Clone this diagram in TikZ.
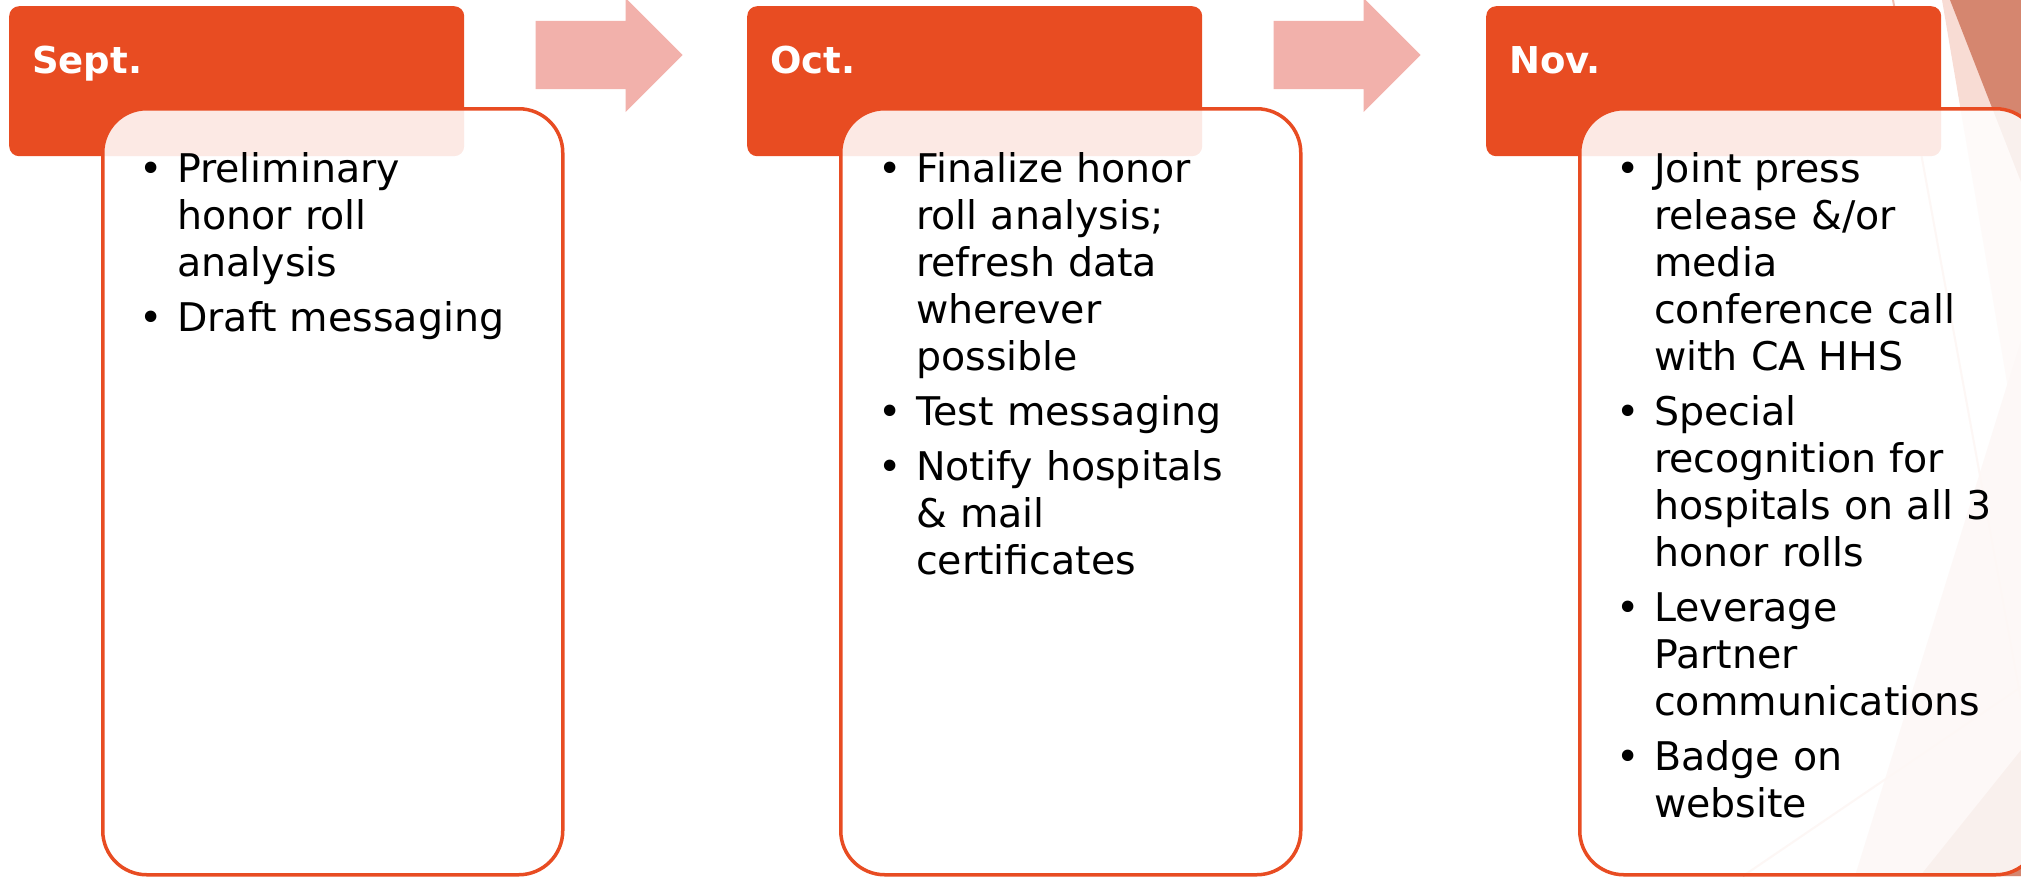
\documentclass[tikz,border=0pt]{standalone}
\usepackage{fontspec}
\setmainfont{DejaVu Sans}
\usetikzlibrary{shapes.arrows}
\definecolor{facet}{HTML}{E84C22}
\definecolor{arrowpink}{HTML}{F2B1AB}
\definecolor{shadepink}{HTML}{F8DCD4}
\definecolor{shadesalmon}{HTML}{D5866F}
\definecolor{shadeline}{HTML}{F0BFB1}
\tikzset{
    month-head/.style = {fill=facet, rectangle, rounded corners=10pt, minimum width=455pt, minimum height=150pt, inner sep=0pt, anchor=north west},
    month-title/.style = {text=white, font=\fontsize{37}{44}\selectfont\bfseries, anchor=base west, inner sep=0pt},
    month-box/.style = {draw=facet, line width=3.5pt, fill=white, fill opacity=0.88, rectangle, rounded corners=44pt, minimum width=460pt, minimum height=766pt, inner sep=0pt, anchor=north west},
    month-list/.style = {text=black, font=\fontsize{39.5}{47}\selectfont, text width=400pt, align=left, anchor=base west, inner sep=0pt},
    month-arrow/.style = {fill=arrowpink, single arrow, single arrow head extend=23pt, inner xsep=0pt, inner ysep=34pt, minimum height=147pt, anchor=tip},
}
\newcommand{\bul}{\leavevmode\llap{\textbullet\hspace{14pt}}}

\begin{document}
\begin{tikzpicture}[x=1pt, y=-1pt]
\clip (0,0) rectangle (2021,876);

% theme facets behind the last column
\fill[shadepink] (1942,0) -- (2021,0) -- (2021,465) -- cycle;
\fill[shadesalmon] (1950,0) -- (2021,0) -- (2021,182) -- cycle;
\fill[shadepink!80!shadesalmon] (1855,876) -- (2021,340) -- (2021,876) -- cycle;
\fill[shadesalmon] (1920,876) -- (2021,750) -- (2021,876) -- cycle;
\draw[shadeline, line width=2pt] (1893,0) -- (2021,700);
\draw[shadeline, line width=2pt] (1743,876) -- (2021,687);

% headers
\node[month-head] (sept-head) at (9,6) {};
\node[month-head] (oct-head) at (747,6) {};
\node[month-head] (nov-head) at (1486,6) {};

\node[month-arrow] (sept-arrow) at (683,55) {};
\node[month-arrow] (oct-arrow) at (1421,55) {};

% content boxes, laid over the headers
\node[month-box] (sept-box) at (101,107) {};
\node[month-box] (oct-box) at (839,107) {};
\node[month-box] (nov-box) at (1578,107) {};

\node[month-title] (sept-title) at ([shift={(23,67)}]sept-head.north west) {Sept.};
\node[month-title] (oct-title) at ([shift={(23,67)}]oct-head.north west) {Oct.};
\node[month-title] (nov-title) at ([shift={(23,67)}]nov-head.north west) {Nov.};

\node[month-list] (sept-list) at (177,182) {\bul Preliminary\\ honor roll\\ analysis\\[8pt]%
    \bul Draft messaging};
\node[month-list] (oct-list) at (916,182) {\bul Finalize honor\\ roll analysis;\\ refresh data\\ wherever\\ possible\\[8pt]%
    \bul Test messaging\\[8pt]%
    \bul Notify hospitals\\ \& mail\\ certificates};
\node[month-list] (nov-list) at (1654,182) {\bul Joint press\\ release \&/or\\ media\\ conference call\\ with CA HHS\\[8pt]%
    \bul Special\\ recognition for\\ hospitals on all 3\\ honor rolls\\[8pt]%
    \bul Leverage\\ Partner\\ communications\\[8pt]%
    \bul Badge on\\ website};
\end{tikzpicture}
\end{document}
